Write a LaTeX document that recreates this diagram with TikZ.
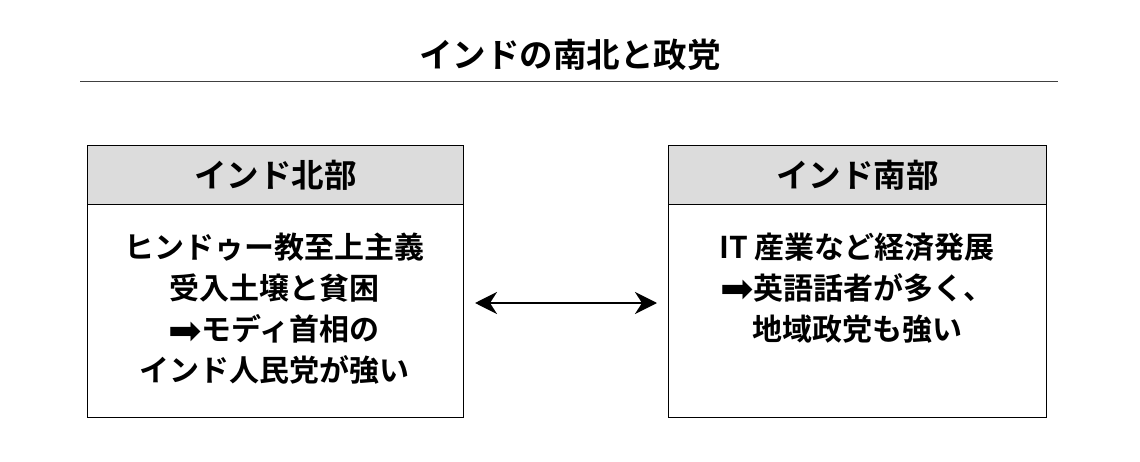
\documentclass[tikz,border=0pt]{standalone}
\usepackage{fontspec}
\usetikzlibrary{arrows.meta}
\newfontfamily\jpf{Noto Sans CJK JP}
\newfontfamily\jpb{Noto Sans CJK JP Bold}
\newfontfamily\symf{DejaVu Sans}
\newcommand{\rarr}{{\symf\fontsize{40}{41}\selectfont\raisebox{-0.08em}{➡}}}
\definecolor{hdrgray}{HTML}{DCDCDC}
\tikzset{
  boxframe/.style={draw=black, line width=1.3pt},
  hdr/.style={font=\jpb\fontsize{32.5}{34}\selectfont, text=black},
  body/.style={font=\jpb\fontsize{30}{41}\selectfont, align=center, text=black},
}
\begin{document}
\begin{tikzpicture}[x=1pt,y=-1pt]
\useasboundingbox (0,0) rectangle (1140,462);
\fill[white] (0,0) rectangle (1140,462);
% title
\node[font=\jpb\fontsize{33.5}{35}\selectfont] (title) at (570,55) {インドの南北と政党};
\coordinate (ruleL) at (80,82);
\coordinate (ruleR) at (1058,82);
\draw[line width=1pt, black!75] (ruleL) -- (ruleR);
% left box
\node[boxframe, fill=hdrgray, minimum width=376pt, minimum height=59pt, anchor=north west, inner sep=0pt] (nhead) at (87,145) {};
\node[boxframe, minimum width=376pt, minimum height=213pt, anchor=north west, inner sep=0pt] (nbody) at (87,204) {};
\node[hdr] (ntitle) at (nhead.center) {インド北部};
\node[body] (ntext) at (274,309) {ヒンドゥー教至上主義\\受入土壌と貧困\\\rarr モディ首相の\\インド人民党が強い};
% right box
\node[boxframe, fill=hdrgray, minimum width=378pt, minimum height=59pt, anchor=north west, inner sep=0pt] (shead) at (668,145) {};
\node[boxframe, minimum width=378pt, minimum height=213pt, anchor=north west, inner sep=0pt] (sbody) at (668,204) {};
\node[hdr] (stitle) at (shead.center) {インド南部};
\node[body] (stext) at (857,288) {IT 産業など経済発展\\\rarr 英語話者が多く、\\地域政党も強い};
% arrow
\coordinate (aL) at (475,303);
\coordinate (aR) at (657,303);
\draw[line width=2.6pt, {Stealth[length=22pt,width=22pt,inset=7pt]}-{Stealth[length=22pt,width=22pt,inset=7pt]}] (aL) -- (aR);
\end{tikzpicture}
\end{document}
